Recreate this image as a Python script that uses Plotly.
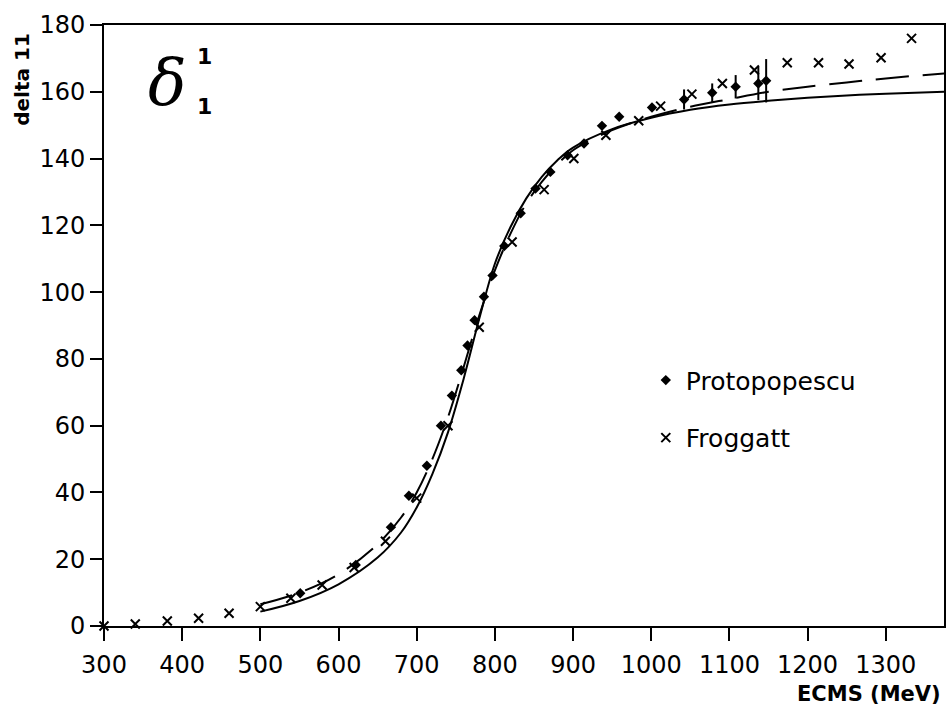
import plotly.graph_objects as go

# Protopopescu data (diamonds)
proto_x = [551, 622, 667, 690, 713, 731, 745, 757, 765, 774, 786, 797, 812, 833, 852, 871,
           893, 914, 937, 959, 1001, 1042, 1078, 1108, 1137, 1147]
proto_y = [9.8, 18.3, 29.6, 39, 48, 60, 69, 76.6, 84, 91.6, 98.6, 105, 113.8, 123.6, 131, 136,
           141, 144.5, 149.8, 152.5, 155.3, 157.7, 159.7, 161.5, 162.5, 163.3]
proto_err = [0, 0, 0, 0, 0, 0, 0, 0, 0, 0, 0, 0, 0, 0, 0, 0,
             0, 0, 0, 0, 0, 3, 2.8, 3.5, 5, 6.5]

# Froggatt data (crosses)
frog_x = [300, 340, 381, 421, 460, 500, 539, 579, 620, 660, 700, 740, 780, 822, 863, 901, 942,
          984, 1012, 1052, 1091, 1132, 1174, 1214, 1253, 1294, 1333]
frog_y = [0, 0.6, 1.5, 2.3, 3.8, 5.8, 8.3, 12.3, 17.5, 25.4, 38.3, 60, 89.5, 115, 130.7, 140, 147,
          151.3, 155.7, 159.3, 162.5, 166.5, 168.7, 168.7, 168.3, 170.2, 176]

# Solid curve
solid_x = [500, 550, 600, 650, 680, 700, 720, 740, 760, 780, 800, 820, 840, 860, 880, 900,
           950, 1000, 1050, 1100, 1150, 1200, 1250, 1300, 1375]
solid_y = [4.3, 7.5, 12.5, 20.5, 28, 35.5, 45.5, 58, 74, 92, 108.5, 119.5, 128, 134.5, 139.5, 143.3,
           148.8, 152.2, 154.6, 156.2, 157.3, 158.2, 158.9, 159.4, 160]

# Dashed curve
dash_x = [500, 550, 600, 650, 680, 700, 720, 740, 760, 780, 800, 820, 840, 860, 880, 900,
          950, 1000, 1050, 1100, 1150, 1200, 1250, 1300, 1375]
dash_y = [6.5, 10, 15.5, 24.5, 32.5, 40, 50, 62.5, 77.5, 93, 106.5, 117.5, 126.5, 133, 138.3, 142.5,
          148.5, 152.5, 155.5, 157.8, 160, 161.5, 162.8, 164, 165.5]

x_ticks = [300, 400, 500, 600, 700, 800, 900, 1000, 1100, 1200, 1300]
y_ticks = [0, 20, 40, 60, 80, 100, 120, 140, 160, 180]

FONT = "DejaVu Sans"

fig = go.Figure()
fig.add_trace(go.Scatter(x=solid_x, y=solid_y, mode="lines", line=dict(color="black", width=2, shape="spline"),
                         showlegend=False, hoverinfo="skip"))
fig.add_trace(go.Scatter(x=dash_x, y=dash_y, mode="lines",
                         line=dict(color="black", width=2, shape="spline", dash="33px,14px"),
                         showlegend=False, hoverinfo="skip"))
fig.add_trace(go.Scatter(x=proto_x, y=proto_y, mode="markers", name="Protopopescu",
                         legendgroup="p",
                         marker=dict(symbol="diamond", size=8, color="black"),
                         error_y=dict(type="data", array=proto_err, visible=True, color="black",
                                      thickness=2, width=0),
                         cliponaxis=False))
fig.add_trace(go.Scatter(x=frog_x, y=frog_y, mode="markers", name="Froggatt",
                         legendgroup="f",
                         marker=dict(symbol="x-thin", size=9, color="black",
                                     line=dict(color="black", width=2)),
                         cliponaxis=False))

axis_common = dict(showline=True, linecolor="black", linewidth=2, mirror=True,
                   ticks="outside", tickwidth=2, tickcolor="black",
                   showgrid=False, zeroline=False,
                   tickfont=dict(family=FONT, size=24, color="black"))

fig.update_xaxes(range=[300, 1374.5], tickvals=x_ticks, ticklen=13, ticklabelstandoff=3, **axis_common)
fig.update_yaxes(range=[0, 180], tickvals=y_ticks, ticklen=12, **axis_common)

fig.update_layout(
    width=947, height=711,
    margin=dict(l=104, r=1, t=25, b=85),
    paper_bgcolor="white", plot_bgcolor="white",
    font=dict(family=FONT, color="black"),
    legend=dict(x=0.645, y=0.447, xanchor="left", yanchor="top",
                font=dict(family=FONT, size=25, color="black"),
                tracegroupgap=22, bgcolor="rgba(0,0,0,0)", itemwidth=30),
    annotations=[
        dict(text="<b>delta 11</b>", x=-0.098, y=0.91, xref="paper", yref="paper",
             xanchor="center", yanchor="middle",
             textangle=-90, showarrow=False, font=dict(family=FONT, size=20, color="black")),
        dict(text="<b>ECMS (MeV)</b>", x=0.999, y=-0.113, xref="paper", yref="paper",
             xanchor="right", yanchor="middle", showarrow=False,
             font=dict(family=FONT, size=21, color="black")),
        dict(text="<i>δ</i>", x=0.075, y=0.905, xref="paper", yref="paper",
             xanchor="center", yanchor="middle",
             showarrow=False, font=dict(family="DejaVu Serif", size=64, color="black")),
        dict(text="<b>1</b>", x=0.12, y=0.947, xref="paper", yref="paper",
             xanchor="center", yanchor="middle",
             showarrow=False, font=dict(family=FONT, size=22, color="black")),
        dict(text="<b>1</b>", x=0.12, y=0.864, xref="paper", yref="paper",
             xanchor="center", yanchor="middle",
             showarrow=False, font=dict(family=FONT, size=22, color="black")),
    ],
)

fig.write_html("out.html", config={"displayModeBar": False},
               post_script="document.body.style.margin='0px';document.body.style.overflow='hidden';")
